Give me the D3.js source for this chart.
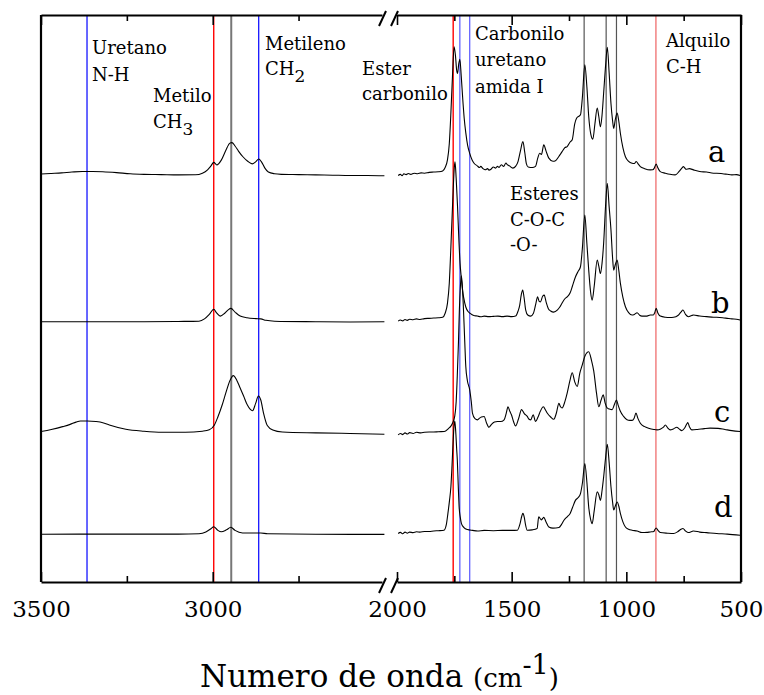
<!DOCTYPE html>
<html>
<head>
<meta charset="utf-8">
<script src="https://cdn.jsdelivr.net/npm/d3@7"></script>
<style>
  body { margin: 0; background: #fff; }
  svg text { font-family: "DejaVu Serif", serif; fill: #000; }
</style>
</head>
<body>
<svg id="chart" width="764" height="695"></svg>
<script>
// FTIR spectra a-d, broken wavenumber axis (3500-2510 | 2000-500)
var series = ["a", "b", "c", "d"];
var offsets = [71.8, 46.2, 26.3, 8.6];

var leftTicks = [3500, 3000];
var leftMinor = [3250, 2750];
var rightTicks = [2000, 1500, 1000, 500];
var rightMinor = [1750, 1250, 750];

// band markers: [wavenumber, colour, width]
var bandsLeft = [[3366, "#0000ff", 1.2], [2997, "#ff0000", 1.4], [2946, "#777777", 2], [2866, "#0000ff", 1.2]];
var bandsRight = [[1755, "#ff0000", 1.4], [1726, "#6464ff", 1.3], [1683, "#6464ff", 1.3],
                  [1184, "#555555", 1.2], [1088, "#555555", 1.2], [1043, "#555555", 1.2], [871, "#f07878", 1.4]];

var aLeft = [[3500,0.15],[3470,0.25],[3440,0.35],[3410,0.5],[3380,0.6],[3350,0.6],[3320,0.55],[3280,0.4],[3240,0.2],[3200,0.1],[3150,0.05],[3100,0],[3050,0.02],[3030,0.3],[3015,0.9],[3005,1.6],[2997,2.2],[2988,1.75],[2975,2.6],[2962,4.3],[2950,5.6],[2944,5.7],[2935,5.1],[2925,4.2],[2912,3.2],[2898,2.4],[2885,1.95],[2875,2.3],[2866,2.8],[2858,2.3],[2848,1.2],[2838,0.5],[2820,0.2],[2800,0.1],[2750,0.05],[2700,0],[2650,-0.05],[2600,-0.1],[2550,-0.1],[2500,-0.15]];
var bLeft = [[3500,-0.3],[3400,-0.3],[3300,-0.3],[3200,-0.3],[3100,-0.25],[3040,-0.2],[3024,0.2],[3010,1.0],[2997,1.9],[2988,1.2],[2978,0.7],[2965,1.2],[2955,1.8],[2947,2.06],[2935,1.4],[2920,0.7],[2900,0.4],[2874,0.25],[2860,0.2],[2845,-0.05],[2820,-0.2],[2700,-0.3],[2600,-0.35],[2500,-0.3]];
var cLeft = [[3500,0.23],[3470,0.6],[3437,1.1],[3415,1.5],[3398,1.9],[3385,2.1],[3365,2.1],[3340,2.0],[3320,1.8],[3301,1.4],[3253,0.65],[3200,0.3],[3147,0.12],[3080,0.1],[3030,0.3],[3010,0.55],[2995,1.4],[2985,2.8],[2972,5.0],[2962,7.0],[2950,9.2],[2940,10.1],[2930,9.3],[2920,7.9],[2910,6.5],[2899,4.9],[2884,3.9],[2875,5.2],[2867,6.5],[2860,5.8],[2852,3.5],[2841,1.3],[2825,0.5],[2797,0.15],[2700,0],[2600,-0.1],[2500,-0.23]];
var dLeft = [[3500,-0.18],[3300,-0.15],[3100,-0.15],[3040,-0.1],[3020,0.2],[3005,0.8],[2997,1.15],[2985,0.5],[2975,0.25],[2960,0.6],[2947,1.05],[2935,0.5],[2913,0.05],[2880,0.05],[2860,0.05],[2840,-0.1],[2700,-0.18],[2500,-0.2]];

var aRight = [[1995,-0.1],[1985,0.1],[1978,-0.15],[1970,0.2],[1960,0.05],[1950,0.25],[1940,0.1],[1925,0.3],[1910,0.2],[1895,0.35],[1880,0.3],[1860,0.45],[1840,0.5],[1820,0.55],[1801,0.7],[1790,1.3],[1780,2.65],[1772,5.5],[1765,10.9],[1758,17.5],[1751,22.6],[1745,21.0],[1740,18.5],[1736,17.9],[1731,19.5],[1726,20.4],[1720,17.5],[1714,13.8],[1707,10.0],[1700,7.4],[1692,5.2],[1683,3.8],[1672,2.6],[1664,2.06],[1650,1.6],[1640,1.3],[1635,1.5],[1625,1.1],[1615,0.9],[1605,1.1],[1599,0.85],[1590,1.0],[1580,1.4],[1570,1.2],[1562,1.5],[1555,1.3],[1545,1.8],[1535,1.5],[1525,2.1],[1519,1.8],[1510,1.6],[1495,1.2],[1483,1.5],[1472,2.4],[1462,4.2],[1451,5.87],[1443,4.0],[1436,2.0],[1428,1.4],[1410,1.3],[1396,1.5],[1386,3.0],[1378,3.83],[1370,3.6],[1360,5.3],[1350,4.2],[1338,2.95],[1320,2.4],[1309,2.5],[1295,3.2],[1280,4.1],[1268,4.8],[1258,5.0],[1245,5.8],[1236,6.2],[1225,9.0],[1217,10.0],[1200,10.6],[1192,13.5],[1181,19.4],[1172,15.5],[1164,10.3],[1155,7.2],[1146,6.3],[1137,9.0],[1127,11.8],[1120,10.3],[1113,8.5],[1106,10.5],[1099,14.4],[1090,19.5],[1083,22.5],[1075,18.0],[1067,12.6],[1060,9.6],[1055,8.2],[1048,9.8],[1040,10.9],[1033,9.5],[1026,7.35],[1015,4.8],[1004,3.2],[990,2.4],[975,2.06],[965,2.0],[957,2.35],[948,1.9],[939,1.46],[920,1.1],[896,0.88],[885,0.9],[878,1.2],[870,1.9],[862,1.2],[852,0.58],[830,0.3],[810,0.1],[787,0],[770,0.6],[758,1.2],[751,1.46],[740,1.0],[725,1.1],[707,0.88],[680,0.6],[650,0.5],[620,0.3],[606,0.3],[580,0.2],[560,0.1],[540,0],[520,0.05],[504,-0.12]];
var bRight = [[1995,-0.2],[1985,0],[1975,-0.15],[1965,0.1],[1955,-0.05],[1945,0.15],[1930,0.05],[1915,0.2],[1900,0.1],[1880,0.25],[1860,0.3],[1840,0.35],[1820,0.4],[1801,0.5],[1790,1.2],[1780,2.95],[1772,6.5],[1765,12.9],[1757,21],[1750,27],[1747,27.9],[1742,25],[1736,20],[1730,14],[1725,10],[1720,7.6],[1714,5.2],[1709,3.9],[1700,2.3],[1690,1.5],[1681,1.18],[1665,0.8],[1650,0.7],[1635,0.58],[1620,0.7],[1600,0.6],[1580,0.65],[1560,0.7],[1540,0.6],[1520,0.7],[1500,0.6],[1483,0.7],[1472,1.6],[1465,2.6],[1458,4.5],[1452,5.3],[1446,4.0],[1439,1.8],[1430,0.9],[1417,0.7],[1405,1.2],[1395,2.8],[1387,4.1],[1380,3.3],[1374,3.2],[1365,4.2],[1358,4.4],[1350,3.2],[1340,2.0],[1330,1.6],[1317,1.4],[1300,1.8],[1290,2.3],[1280,3.0],[1267,3.8],[1258,4.1],[1245,4.8],[1235,6.0],[1222,7.6],[1210,8.6],[1200,9.4],[1192,12.5],[1181,18.5],[1172,13.5],[1164,8.8],[1156,5.0],[1149,3.5],[1140,6.0],[1127,10.6],[1120,9.5],[1113,8.2],[1106,10.0],[1099,13.5],[1090,20.5],[1083,24.1],[1075,20.0],[1067,15.9],[1060,11.0],[1055,8.8],[1048,9.8],[1040,10.6],[1033,8.8],[1026,6.5],[1015,4.0],[1004,2.35],[990,1.3],[975,0.88],[965,1.0],[953,1.3],[942,0.85],[932,0.7],[910,0.7],[896,0.88],[882,0.9],[876,1.3],[870,2.06],[862,1.2],[852,0.7],[830,0.5],[810,0.45],[794,0.48],[775,0.8],[762,1.4],[753,1.76],[742,1.0],[729,0.58],[715,0.8],[707,0.88],[680,0.7],[650,0.6],[620,0.5],[606,0.48],[580,0.4],[560,0.3],[540,0.2],[520,0.15],[504,0]];
var cRight = [[1995,-0.35],[1985,-0.1],[1975,-0.3],[1965,0],[1955,-0.2],[1945,0.05],[1930,-0.1],[1915,0.1],[1896,0],[1880,0.1],[1860,0.15],[1840,0.15],[1820,0.2],[1794,0.23],[1775,0.8],[1765,1.2],[1758,1.7],[1748,3.0],[1742,5.5],[1737,10.2],[1732,16.0],[1728,21.7],[1724,25.5],[1720,27.7],[1716,26.5],[1711,22.6],[1705,16.5],[1700,11.7],[1693,9.2],[1683,7.6],[1676,5.5],[1671,3.5],[1660,2.5],[1649,2.3],[1640,2.6],[1632,2.8],[1620,2.9],[1610,1.8],[1599,1.0],[1588,1.5],[1575,1.9],[1562,2.0],[1548,2.0],[1533,2.3],[1524,3.4],[1516,4.6],[1508,3.8],[1501,3.2],[1492,2.0],[1483,1.23],[1470,2.5],[1457,4.1],[1445,3.4],[1432,2.9],[1424,2.4],[1417,2.3],[1406,3.2],[1396,2.0],[1385,2.8],[1375,3.8],[1362,4.6],[1352,4.0],[1345,3.5],[1330,2.8],[1316,2.4],[1305,3.5],[1294,5.2],[1287,4.6],[1280,4.4],[1268,5.5],[1258,7.0],[1246,9.2],[1236,10.6],[1225,9.0],[1214,8.2],[1203,10.5],[1192,12.0],[1180,13.6],[1164,14.3],[1152,12.8],[1142,10.9],[1130,7.0],[1120,4.6],[1110,5.8],[1101,6.7],[1092,5.2],[1084,4.4],[1074,4.2],[1062,4.1],[1052,5.0],[1043,5.8],[1035,4.8],[1026,3.8],[1012,2.9],[997,2.3],[985,2.2],[975,2.2],[966,2.6],[958,3.5],[950,2.6],[939,1.7],[920,1.1],[903,0.83],[880,0.6],[866,0.53],[850,0.7],[838,1.0],[830,1.4],[820,0.9],[809,0.53],[795,0.7],[780,1.0],[770,0.7],[758,0.4],[745,0.9],[736,1.6],[732,1.8],[725,1.1],[714,0.53],[690,0.6],[660,0.75],[635,0.83],[600,0.8],[570,0.6],[540,0.4],[504,0.23]];
var dRight = [[1995,-0.05],[1985,0.15],[1975,-0.1],[1965,0.2],[1955,0],[1945,0.2],[1930,0.1],[1915,0.25],[1900,0.2],[1880,0.3],[1860,0.3],[1840,0.4],[1820,0.45],[1795,0.53],[1785,1.5],[1778,3.5],[1771,5.8],[1765,8.2],[1760,12.0],[1755,16.4],[1751,19.0],[1748,19.8],[1744,18.0],[1740,15.0],[1737,12.9],[1733,8.5],[1729,4.6],[1724,2.8],[1719,1.7],[1708,1.0],[1693,0.65],[1670,0.5],[1649,0.4],[1620,0.5],[1580,0.45],[1540,0.5],[1500,0.5],[1475,0.53],[1464,1.6],[1456,3.0],[1451,3.5],[1445,2.8],[1440,1.6],[1432,0.53],[1410,0.6],[1389,0.83],[1382,2.9],[1376,2.6],[1371,2.35],[1365,2.6],[1360,2.8],[1350,2.0],[1338,1.1],[1320,0.9],[1294,1.0],[1282,1.6],[1272,2.3],[1258,2.9],[1245,3.5],[1235,4.5],[1222,5.8],[1210,6.3],[1200,7.0],[1191,9.0],[1181,12.3],[1172,9.0],[1164,4.6],[1156,2.5],[1149,1.7],[1140,4.0],[1127,7.3],[1120,6.8],[1113,5.8],[1106,7.5],[1099,9.9],[1090,13.5],[1083,15.7],[1075,12.5],[1067,8.2],[1060,5.5],[1055,4.1],[1048,4.8],[1040,5.5],[1033,4.8],[1026,3.5],[1015,2.0],[1004,1.1],[990,0.7],[975,0.53],[953,0.4],[932,0.12],[910,0.15],[896,0.23],[880,0.3],[876,0.6],[870,0.93],[862,0.5],[852,0.12],[820,0.0],[794,-0.05],[775,0.3],[762,0.7],[753,0.83],[742,0.4],[729,0.12],[715,0.3],[707,0.4],[680,0.2],[650,0.1],[606,-0.05],[560,-0.15],[504,-0.35]];

var leftData = [aLeft, bLeft, cLeft, dLeft];
var rightData = [aRight, bRight, cRight, dRight];

var svg = d3.select("#chart");
var plotTop = 15, plotBottom = 582, frameL = 41, frameR = 741;

var xLeft = d3.scaleLinear().domain([3500, 2507]).range([frameL, 382]);
var xRight = d3.scaleLinear().domain([2000, 500]).range([397, frameR]);
var y = d3.scaleLinear().domain([0, 100]).range([plotBottom, plotTop]);

//band marker lines
function drawBands(bands, x) {
  svg.append("g").selectAll("line").data(bands).enter().append("line")
    .attr("x1", function(d){ return x(d[0]); })
    .attr("x2", function(d){ return x(d[0]); })
    .attr("y1", plotTop).attr("y2", plotBottom)
    .attr("stroke", function(d){ return d[1]; })
    .attr("stroke-width", function(d){ return d[2]; });
}
drawBands(bandsLeft, xLeft);
drawBands(bandsRight, xRight);

//spectra
function drawSpectra(data, x) {
  data.forEach(function(pts, i){
    var line = d3.line()
      .x(function(d){ return x(d[0]); })
      .y(function(d){ return y(d[1] + offsets[i]); })
      .curve(d3.curveMonotoneX);
    svg.append("path").datum(pts)
      .attr("d", line)
      .attr("fill", "none")
      .attr("stroke", "#000")
      .attr("stroke-width", 1.1)
      .attr("stroke-linejoin", "round");
  });
}
drawSpectra(leftData, xLeft);
drawSpectra(rightData, xRight);

//axes, ticks pointing inward
function addAxis(axisFn, scale, major, minor, ypos, labels) {
  var g = svg.append("g").attr("transform", "translate(0," + ypos + ")");
  g.call(axisFn(scale).tickValues(major).tickSizeInner(-10).tickSizeOuter(0)
    .tickFormat(labels ? d3.format("d") : ""));
  var m = svg.append("g").attr("transform", "translate(0," + ypos + ")");
  m.call(axisFn(scale).tickValues(minor).tickSizeInner(-6).tickSizeOuter(0).tickFormat(""));
  m.select(".domain").remove();
  g.select(".domain").attr("stroke-width", 2.2);
  svg.selectAll(".tick line").attr("stroke-width", 1.6);
  g.attr("font-family", "DejaVu Serif");
  if (labels) {
    g.selectAll("text").attr("y", 35).attr("dy", null)
      .attr("font-family", "DejaVu Serif").style("font-size", "23px").attr("fill", "#000");
  }
}
addAxis(d3.axisBottom, xLeft, leftTicks, leftMinor, plotBottom, true);
addAxis(d3.axisBottom, xRight, rightTicks, rightMinor, plotBottom, true);
addAxis(d3.axisTop, xLeft, leftTicks, leftMinor, plotTop, false);
addAxis(d3.axisTop, xRight, rightTicks, rightMinor, plotTop, false);

svg.append("line").attr("x1", frameL).attr("x2", frameL).attr("y1", plotTop).attr("y2", plotBottom)
  .attr("stroke", "#000").attr("stroke-width", 2.2);
svg.append("line").attr("x1", frameR).attr("x2", frameR).attr("y1", plotTop).attr("y2", plotBottom)
  .attr("stroke", "#000").attr("stroke-width", 2.2);

//break marks
[plotTop, plotBottom].forEach(function(yy){
  [382.5, 394.5].forEach(function(xx){
    svg.append("line")
      .attr("x1", xx - 3.5).attr("y1", yy + 11)
      .attr("x2", xx + 3.5).attr("y2", yy - 4)
      .attr("stroke", "#000").attr("stroke-width", 2);
  });
});

//annotations
var notes = [
  {x: 92, y: 54, t: "Uretano"}, {x: 92, y: 81, t: "N-H"},
  {x: 153, y: 102, t: "Metilo"}, {x: 153, y: 128, t: "CH", sub: "3"},
  {x: 265, y: 50, t: "Metileno"}, {x: 265, y: 75, t: "CH", sub: "2"},
  {x: 362, y: 75, t: "Ester"}, {x: 362, y: 100, t: "carbonilo"},
  {x: 475, y: 40, t: "Carbonilo"}, {x: 475, y: 66, t: "uretano"}, {x: 475, y: 93, t: "amida I"},
  {x: 666, y: 47, t: "Alquilo"}, {x: 666, y: 73, t: "C-H"},
  {x: 510, y: 200, t: "Esteres"}, {x: 510, y: 226, t: "C-O-C"}, {x: 510, y: 251, t: "-O-"}
];
notes.forEach(function(n){
  var t = svg.append("text").attr("x", n.x).attr("y", n.y).style("font-size", "18px").text(n.t);
  if (n.sub) t.append("tspan").attr("dy", 7).style("font-size", "17px").text(n.sub);
});

var seriesLabelPos = [[708, 162], [711, 313], [714, 422], [714, 517]];
series.forEach(function(s, i){
  svg.append("text").attr("x", seriesLabelPos[i][0]).attr("y", seriesLabelPos[i][1])
    .style("font-size", "29px").text(s);
});

//x axis title
var title = svg.append("text").attr("x", 200).attr("y", 687).style("font-size", "31px");
title.append("tspan").text("Numero de onda ");
title.append("tspan").style("font-size", "26px").text("(cm");
title.append("tspan").attr("dy", -13).style("font-size", "27px").text("-1");
title.append("tspan").attr("dy", 13).style("font-size", "26px").text(")");
</script>
</body>
</html>
